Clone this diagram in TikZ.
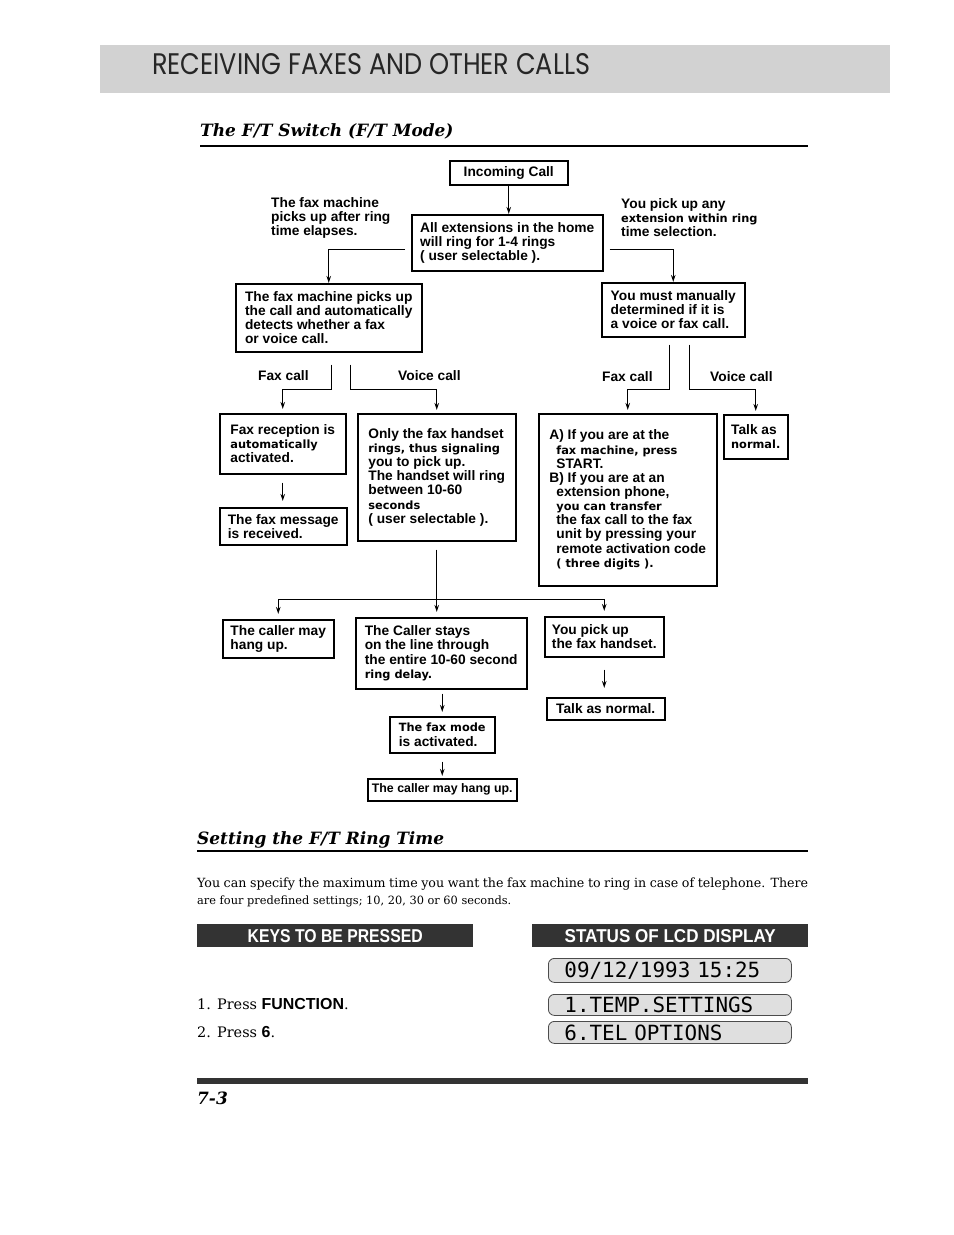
\documentclass[tikz,border=0pt]{standalone}
\usepackage{fontspec}
\usepackage{tikz}
\usetikzlibrary{arrows.meta}

\newfontfamily\flowsans{Liberation Sans}
\newfontfamily\widesans{DejaVu Sans}
\newfontfamily\headsans{Poppins}
\newfontfamily\lcdmono{DejaVu Sans Mono}
\newfontfamily\bodyserif{DejaVu Serif}
\newcommand\flowfont{\flowsans\bfseries\fontsize{13.8}{14.2}\selectfont}
\newcommand\lcdfont{\lcdmono\fontsize{21}{22}\selectfont}
\newcommand\sm[1]{{\widesans\bfseries\fontsize{11.4}{14.2}\selectfont #1}}
\newcommand\headfont{\bodyserif\bfseries\itshape\fontsize{17}{18}\selectfont}

\begin{document}
\begin{tikzpicture}[
    x=1bp,y=-1bp,>={Stealth[length=7bp,width=4.5bp]},
    chart node/.style={draw,line width=1.5bp,anchor=north west,align=left,
      inner xsep=5bp,inner ysep=0bp,font=\flowfont},
    chart arrow/.style={->,line width=1.1bp},
    chart line/.style={line width=1.1bp},
    chart label/.style={anchor=north west,align=left,inner sep=0pt,font=\flowfont},
    branch label/.style={anchor=base west,inner sep=0pt,font=\flowfont},
    bar node/.style={fill=black!80,text=white,anchor=north west,minimum width=276bp,
      minimum height=23bp,inner sep=0pt},
    lcd node/.style={draw=black!70,line width=0.8bp,rounded corners=6bp,fill=gray!25,
      anchor=north west,text width=211bp,inner xsep=16bp,inner ysep=0pt,align=left,
      font=\lcdfont},
    page text/.style={anchor=base west,inner sep=0pt}
  ]
    \path[use as bounding box,fill=white] (0,0) rectangle (954,1235);

    % page head
    \fill[gray!35] (100,45) rectangle (890,93);
    \node[page text,text=black!85] (head) at (152,74)
      {\resizebox{438bp}{21bp}{\headsans RECEIVING FAXES AND OTHER CALLS}};
    \node[page text,font=\headfont] (switch) at (200,136) {The F/T Switch (F/T Mode)};
    \draw[line width=1.3bp] (200,146) -- (808,146);

    % flow chart
    \node[chart node,align=center,minimum width=118bp,minimum height=24bp] (call) at (449,160) {Incoming Call};
    \node[chart node,minimum width=191bp,minimum height=56bp] (ring) at (411,214)
      {All extensions in the home\\will ring for 1-4 rings\\( user selectable ).};
    \node[chart label] (elapse) at (271,197) {The fax machine\\picks up after ring\\time elapses.};
    \node[chart label] (within) at (621,198) {You pick up any\\\sm{extension within ring}\\time selection.};
    \node[chart node,minimum width=186bp,minimum height=68bp] (autobox) at (235,283)
      {The fax machine picks up\\the call and automatically\\detects whether a fax\\or voice call.};
    \node[chart node,minimum width=143bp,minimum height=54bp] (manual) at (601,282)
      {You must manually\\determined if it is\\a voice or fax call.};
    \node[branch label] (faxL) at (258,380) {Fax call};
    \node[branch label] (voiceL) at (398,380) {Voice call};
    \node[branch label] (faxR) at (602,381) {Fax call};
    \node[branch label] (voiceR) at (710,381) {Voice call};
    \node[chart node,inner xsep=8bp,minimum width=126bp,minimum height=60bp] (faxrx) at (219,413)
      {Fax reception is\\\sm{automatically}\\activated.};
    \node[chart node,inner xsep=3bp,minimum width=127bp,minimum height=37bp] (faxmsg) at (219,507)
      {The fax message\\is received.};
    \node[chart node,minimum width=158bp,minimum height=127bp] (handset) at (357,413)
      {Only the fax handset\\\sm{rings, thus signaling}\\you to pick up.\\The handset will ring\\between 10-60\\\sm{seconds}\\( user selectable ).};
    \node[chart node,minimum width=178bp,minimum height=172bp] (transfer) at (538,413)
      {A) If you are at the\\\hspace*{7bp}\sm{fax machine, press}\\\hspace*{7bp}START.\\B) If you are at an\\\hspace*{7bp}extension phone,\\\hspace*{7bp}\sm{you can transfer}\\\hspace*{7bp}the fax call to the fax\\\hspace*{7bp}unit by pressing your\\\hspace*{7bp}remote activation code\\\hspace*{7bp}\sm{( three digits ).}};
    \node[chart node,minimum width=64bp,minimum height=44bp] (talkA) at (723,414)
      {Talk as\\\sm{normal.}};
    \node[chart node,inner xsep=3bp,minimum width=111bp,minimum height=38bp] (hangA) at (222,619)
      {The caller may\\hang up.};
    \node[chart node,minimum width=171bp,minimum height=71bp] (stays) at (355,617)
      {The Caller stays\\on the line through\\the entire 10-60 second\\\sm{ring delay.}};
    \node[chart node,minimum width=119bp,minimum height=40bp] (pickup) at (544,616)
      {You pick up\\the fax handset.};
    \node[chart node,align=center,minimum width=118bp,minimum height=22bp] (talkB) at (546,697)
      {Talk as normal.};
    \node[chart node,minimum width=105bp,minimum height=36bp] (faxmode) at (389,716)
      {\sm{The fax mode}\\is activated.};
    \node[chart node,align=center,inner xsep=3bp,minimum width=149bp,minimum height=22bp,
      font=\flowsans\bfseries\fontsize{12.4}{13}\selectfont] (hangB) at (367,778)
      {The caller may hang up.};

    \coordinate (split) at ([yshift=-58bp]handset.south);

    \draw[chart arrow] (call.south) -- (call.south |- ring.north);
    \draw[chart arrow] ([xshift=-6bp,yshift=-7bp]ring.west) -| (autobox.north);
    \draw[chart arrow] ([xshift=6bp,yshift=-7bp]ring.east) -| (manual.north);
    \draw[chart arrow,shorten >=4bp] ([xshift=3bp,yshift=-12bp]autobox.south) -- ++(0,25) -| (faxrx.north);
    \draw[chart arrow,shorten >=3bp] ([xshift=22bp,yshift=-12bp]autobox.south) -- ++(0,25) -| (handset.north);
    \draw[chart arrow,shorten >=3bp] ([xshift=-3.5bp,yshift=-7bp]manual.south) -- ++(0,45) -| (transfer.north);
    \draw[chart arrow,shorten >=3bp] ([xshift=16.5bp,yshift=-7bp]manual.south) -- ++(0,45) -| (talkA.north);
    \draw[chart arrow,shorten <=8bp,shorten >=6bp] (faxrx.south) -- (faxrx.south |- faxmsg.north);
    \draw[chart line,shorten <=8bp] (handset.south) -- (split);
    \draw[chart arrow,shorten >=5bp] (split) -| (hangA.north);
    \draw[chart arrow,shorten >=5bp] (split) -- (split |- stays.north);
    \draw[chart arrow,shorten >=5bp] (split) -| (pickup.north);
    \draw[chart arrow,shorten <=12bp,shorten >=9bp] (pickup.south) -- (pickup.south |- talkB.north);
    \draw[chart arrow,shorten <=4bp,shorten >=4bp] (stays.south -| faxmode.north) -- (faxmode.north);
    \draw[chart arrow,shorten <=8bp,shorten >=2bp] (faxmode.south) -- (faxmode.south |- hangB.north);

    % ring time section
    \node[page text,font=\headfont] (setting) at (197,844) {Setting the F/T Ring Time};
    \draw[line width=1.3bp] (197,851) -- (808,851);
    \node[page text,font=\bodyserif\fontsize{12.7}{14}\selectfont] (textA) at (197,887)
      {\makebox[611bp][s]{You can specify the maximum time you want the fax machine to ring in case of telephone. There}};
    \node[page text,font=\bodyserif\fontsize{11.4}{13}\selectfont] (textB) at (197,904)
      {are four predefined settings; 10, 20, 30 or 60 seconds.};

    \node[bar node] (keys) at (197,924) {\resizebox{175bp}{13bp}{\flowsans\bfseries KEYS TO BE PRESSED}};
    \node[bar node] (status) at (532,924) {\resizebox{211bp}{13bp}{\flowsans\bfseries STATUS OF LCD DISPLAY}};

    \node[lcd node,minimum height=24bp] (lcdA) at (548,958) {09/12/1993 15:25};
    \node[lcd node,minimum height=21bp] (lcdB) at (548,994) {1.TEMP.SETTINGS};
    \node[lcd node,minimum height=22bp] (lcdC) at (548,1021) {6.TEL OPTIONS};

    \node[page text,font=\bodyserif\fontsize{14.5}{17}\selectfont] (stepA) at (197,1009)
      {1. Press {\flowsans\bfseries\fontsize{16}{17}\selectfont FUNCTION}.};
    \node[page text,font=\bodyserif\fontsize{14.5}{17}\selectfont] (stepB) at (197,1037)
      {2. Press {\flowsans\bfseries\fontsize{16}{17}\selectfont 6}.};

    % page foot
    \fill[black!80] (197,1078) rectangle (808,1084);
    \node[page text,font=\bodyserif\bfseries\itshape\fontsize{17}{19}\selectfont]
      (page) at (197,1104) {7-3};
  \end{tikzpicture}
\end{document}
